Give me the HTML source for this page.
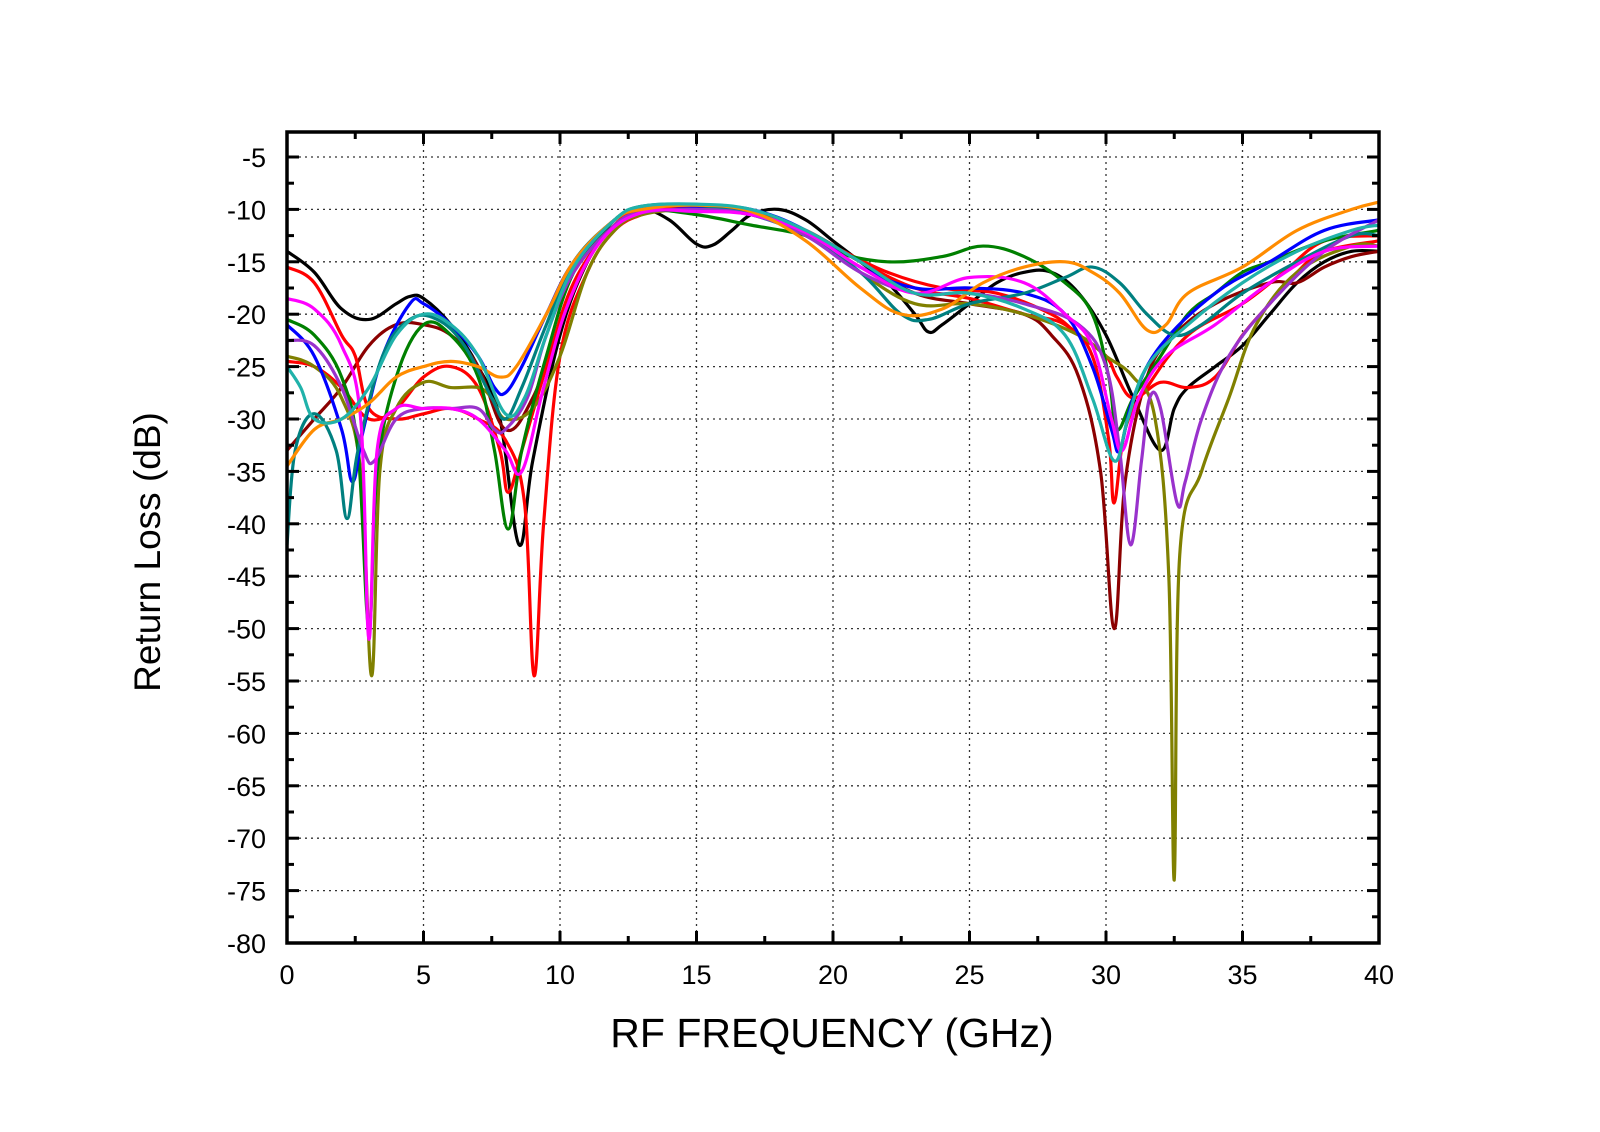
<!DOCTYPE html>
<html><head><meta charset="utf-8"><style>
html,body{margin:0;padding:0;background:#fff;}
svg{display:block;font-family:"Liberation Sans",Arial,sans-serif;}
</style></head><body>
<svg id="s" width="1600" height="1132" viewBox="0 0 1600 1132" xmlns="http://www.w3.org/2000/svg">
<g id="grid"></g>
<g id="curves" fill="none" stroke-width="3" stroke-linejoin="round"></g>
<rect x="287" y="132" width="1092" height="811" fill="none" stroke="#000" stroke-width="3.5"/>
<g id="ticks"></g>
<text x="832" y="1047" font-size="41" text-anchor="middle">RF FREQUENCY (GHz)</text>
<text transform="translate(160,552) rotate(-90)" font-size="37" text-anchor="middle">Return Loss (dB)</text>
</svg>
<script>
const X=f=>287+f*27.3, Y=d=>157+(-5-d)*(786/75);
const NS="http://www.w3.org/2000/svg";
function el(p,t,a,txt){const e=document.createElementNS(NS,t);for(const k in a)e.setAttribute(k,a[k]);if(txt!=null)e.textContent=txt;p.appendChild(e);return e;}
const grid=document.getElementById('grid'),ticks=document.getElementById('ticks');
for(let f=5;f<40;f+=5)el(grid,'line',{x1:X(f),x2:X(f),y1:132,y2:943,stroke:'#333','stroke-width':1.3,'stroke-dasharray':'2,4'});
for(let d=-5;d>-80;d-=5)el(grid,'line',{x1:287,x2:1379,y1:Y(d),y2:Y(d),stroke:'#333','stroke-width':1.3,'stroke-dasharray':'2,4'});
for(let f=0;f<=40;f+=2.5){const maj=f%5==0;const l=maj?12:7;
 el(ticks,'line',{x1:X(f),x2:X(f),y1:943,y2:943-l,stroke:'#000','stroke-width':3});
 el(ticks,'line',{x1:X(f),x2:X(f),y1:132,y2:132+l,stroke:'#000','stroke-width':3});
 if(maj)el(ticks,'text',{x:X(f),y:984,'font-size':27,'text-anchor':'middle'},f);}
for(let d=-5;d>=-80;d-=2.5){const maj=d%5==0;const l=maj?12:7;
 el(ticks,'line',{x1:287,x2:287+l,y1:Y(d),y2:Y(d),stroke:'#000','stroke-width':3});
 el(ticks,'line',{x1:1379,x2:1379-l,y1:Y(d),y2:Y(d),stroke:'#000','stroke-width':3});
 if(maj)el(ticks,'text',{x:266,y:Y(d)+10,'font-size':27,'text-anchor':'end'},d);}
const S=[
['#000',[[0,-14],[1,-16],[2,-19.5],[3,-20.5],[4,-19],[4.5,-18.3],[5,-18.5],[6,-21],[7,-25],[7.8,-30],[8.5,-42],[9,-34],[10,-22],[11,-15],[12,-11],[13,-10],[14,-11],[15,-13.3],[15.6,-13.4],[16.3,-12],[17,-10.5],[18,-10],[19,-11],[20,-13],[21,-15],[22,-17],[23,-20],[23.5,-21.7],[24,-21],[25,-19],[26,-17],[27,-16],[28,-16],[29,-18],[30,-22],[31,-28],[32,-33],[32.5,-29],[33,-27],[34,-25],[35,-23],[36,-20],[37,-17],[38,-15],[39,-14],[40,-14]]],
['#8b0000',[[0,-33],[1,-30],[2,-27],[3,-23],[4,-21],[5,-21],[6,-22],[7,-25],[8,-31],[9,-28],[10,-21],[11,-15],[12,-11.5],[13,-10],[15,-9.7],[17,-10.3],[19,-12],[21,-15],[23,-18],[25,-19],[27,-20],[28,-22],[29,-26],[29.8,-35],[30.3,-50],[30.7,-36],[31.5,-26],[32.5,-22],[34,-19],[36,-17],[37,-17],[38,-15.5],[39,-14.5],[40,-14]]],
['#ff0000',[[0,-15.5],[1,-17],[2,-22],[2.5,-24],[3,-29],[4,-30],[5,-29.5],[6,-29],[7,-30],[8,-32],[8.7,-38],[9.05,-54.5],[9.4,-40],[10,-24],[11,-16],[12,-12],[13,-10.5],[14,-10],[16,-10],[17,-10.5],[18,-11],[20,-13.5],[22,-16],[24,-17.5],[26,-18],[28,-20],[29,-22],[30,-24],[30.4,-26],[31,-28],[32,-26.5],[33,-27],[34,-26],[35,-22],[36,-19],[37,-16],[38,-14],[40,-13]]],
['#ff0000',[[0,-24.5],[1,-25],[2,-27],[3,-30],[4,-29],[5,-26],[6,-25],[7,-27],[7.8,-33],[8.1,-37],[8.6,-33],[9.5,-25],[10.5,-17],[12,-11.5],[13,-10.3],[15,-9.8],[17,-10.2],[19,-12],[21,-15],[23,-17.5],[25,-18.5],[27,-20],[28.5,-21],[29.5,-24],[30.1,-32],[30.3,-38],[30.7,-31],[31.5,-27],[33,-22],[35,-19],[36.5,-16],[38,-13],[40,-12.5]]],
['#808000',[[0,-24],[1,-25],[2,-28],[2.7,-35],[3.1,-54.5],[3.4,-35],[4,-29],[5,-26.5],[6,-27],[7,-27],[7.5,-28],[8,-30],[9,-29],[10,-24],[11,-16],[12,-12],[13,-10.5],[15,-10],[17,-10.5],[19,-12],[21,-16],[23,-19],[25,-19],[27,-20],[29,-22],[30,-24],[31,-26],[31.8,-30],[32.3,-45],[32.5,-74],[32.7,-43],[33.5,-35],[34.5,-28],[35.5,-21],[37,-16],[39,-13.5],[40,-13.5]]],
['#008000',[[0,-20.5],[1,-22],[2,-26],[2.6,-33],[3,-50],[3.3,-35],[4,-26],[5,-21],[6,-22],[7,-26],[7.6,-33],[8.1,-40.5],[8.6,-33],[9.5,-24],[10.5,-16],[12,-11],[13,-10],[15,-10.5],[17,-11.5],[19,-12.5],[20,-14],[22,-15],[24,-14.5],[25.5,-13.5],[27,-14.5],[28.5,-17],[29.5,-20],[30.1,-26],[30.4,-31],[31,-28],[32,-24],[33,-20],[34,-18],[35,-16],[36,-15],[38,-13],[40,-12]]],
['#0000ff',[[0,-21],[1,-24],[2,-31],[2.4,-36],[2.8,-31],[3.5,-24],[4.5,-19],[5,-19],[6,-21],[7,-24],[7.6,-27],[8,-27.5],[8.6,-25],[9.5,-20],[10.5,-15],[12,-11],[13,-9.8],[15,-9.7],[17,-10],[19,-12],[21,-15.5],[23,-17.5],[25,-17.5],[27,-18],[28.5,-20],[29.5,-25],[30.2,-31],[30.5,-33],[31,-28],[32,-23],[34,-18],[36,-15],[38,-12],[40,-11]]],
['#008080',[[0,-42],[0.3,-33],[1,-29.5],[1.8,-33],[2.2,-39.5],[2.6,-33],[3.5,-24],[4.5,-20.5],[5.5,-20.5],[6.5,-23],[7.5,-28],[8,-30],[8.6,-27],[9.5,-21],[10.5,-15],[12,-11],[13,-9.7],[15,-9.6],[17,-10.5],[19,-12.5],[21,-16],[22.5,-20],[23.5,-20.5],[25,-19],[27,-18],[28.5,-16.5],[29.5,-15.5],[30.5,-17],[31.5,-20],[32.5,-22],[33.5,-21],[35,-18],[37,-15],[39,-12.5],[40,-12.5]]],
['#9932cc',[[0,-22.5],[1,-23],[2,-27],[2.8,-33],[3.2,-34],[4,-30],[5,-29],[6,-29],[7,-29],[7.6,-31],[8,-31],[8.8,-28],[9.5,-22],[10.5,-16],[12,-11.5],[13,-10.3],[15,-10],[17,-10.5],[19,-12.5],[21,-16],[23,-18],[25,-18],[27,-19],[29,-21],[30,-25],[30.5,-33],[30.9,-42],[31.3,-34],[31.6,-28],[32,-29],[32.6,-38],[32.9,-36],[33.5,-30],[34.5,-24],[36,-19],[38,-14],[40,-11]]],
['#ff00ff',[[0,-18.5],[1,-19.5],[2,-23],[2.7,-30],[3,-51],[3.3,-33],[4,-29],[5,-29],[6,-29],[7,-30],[8,-33],[8.6,-35],[9.4,-27],[10.3,-19],[11.5,-13],[13,-10.3],[15,-10.2],[17,-10.5],[19,-12.2],[21,-15.5],[23,-18],[25,-16.5],[27,-17],[28.5,-20],[29.5,-23],[30.2,-30],[30.6,-33],[31.2,-28],[32.2,-24],[34,-21],[36,-17],[38,-14],[40,-13.5]]],
['#ff8c00',[[0,-34.5],[1,-31],[2,-30],[3,-28.5],[4,-26],[5,-25],[6,-24.5],[7,-25],[7.8,-26],[8.4,-25],[9.5,-20],[10.5,-15],[12,-11],[13,-10],[15,-9.6],[17,-10.2],[19,-13],[21,-17.5],[22.5,-20],[24,-19.5],[25.5,-17],[27,-15.5],[28.5,-15],[29.5,-16],[30.5,-18],[31.5,-21.5],[32.2,-21],[33,-18],[35,-15.5],[37,-12],[39,-10],[40,-9.3]]],
['#20b2aa',[[0,-25],[0.5,-27],[1,-30],[2,-30],[3,-27],[4,-22],[5,-20],[6,-21],[7,-24],[8,-29.5],[8.7,-28],[9.5,-22],[10.5,-15.5],[12,-11],[13,-9.7],[15,-9.5],[17,-10],[19,-12],[21,-15],[23,-18],[25,-18],[27,-19.5],[28.5,-22],[29.5,-28],[30.3,-34],[30.8,-30],[31.5,-25],[33,-21],[35,-17],[37,-14],[39,-12],[40,-11.5]]]
];
function path(pts){const P=pts.map(p=>[X(p[0]),Y(p[1])]);let d='M'+P[0][0]+','+P[0][1];
 for(let i=0;i<P.length-1;i++){const p0=P[Math.max(0,i-1)],p1=P[i],p2=P[i+1],p3=P[Math.min(P.length-1,i+2)];
 const t=0.18;d+=` C${p1[0]+(p2[0]-p0[0])*t},${p1[1]+(p2[1]-p0[1])*t} ${p2[0]-(p3[0]-p1[0])*t},${p2[1]-(p3[1]-p1[1])*t} ${p2[0]},${p2[1]}`;}return d;}
const cg=document.getElementById('curves');
S.forEach(s=>el(cg,'path',{d:path(s[1]),stroke:s[0],'stroke-width':3.2}));
</script>
</body></html>
